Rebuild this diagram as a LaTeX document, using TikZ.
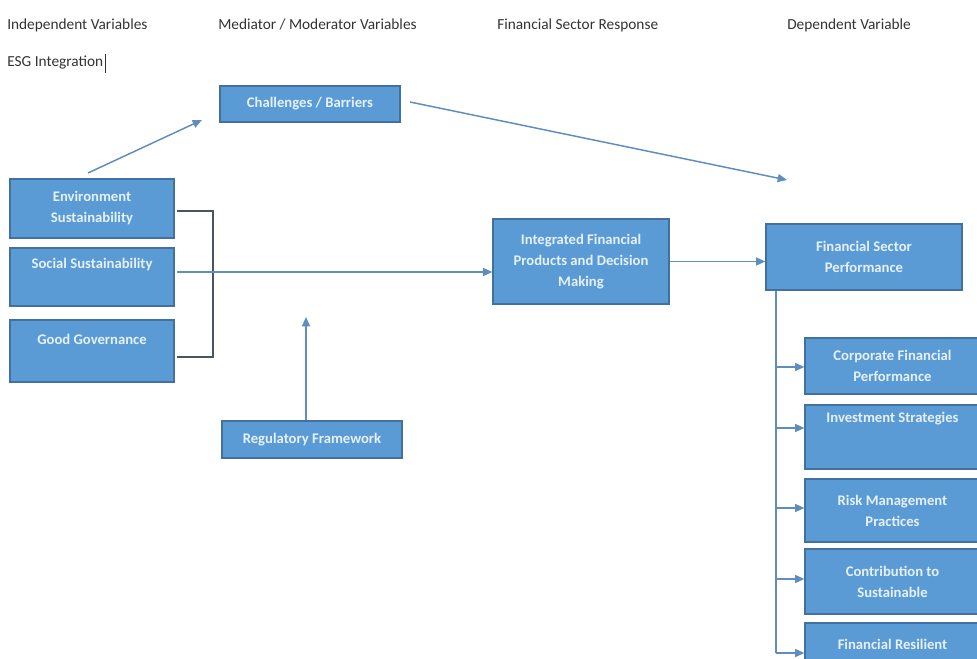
\documentclass[tikz,border=0pt]{standalone}
\usepackage{fontspec}
\setmainfont{Carlito}
\usetikzlibrary{arrows.meta}
\definecolor{boxfill}{HTML}{5B9BD5}
\definecolor{boxline}{HTML}{41719C}
\definecolor{boxtext}{HTML}{E6F0FA}
\definecolor{arrowc}{HTML}{5E8DBE}
\definecolor{bracketc}{HTML}{4A5560}
\definecolor{headc}{HTML}{333333}
\begin{document}
\begin{tikzpicture}[x=0.75pt,y=-0.75pt,
  box/.style={draw=boxline, line width=0.9pt, fill=boxfill, text=boxtext,
    font=\fontsize{11}{15.75}\selectfont\bfseries, align=center, inner sep=0pt, anchor=center},
  toptext/.style={text depth=#1},
  head/.style={anchor=west, text=headc, font=\fontsize{11.5}{14}\selectfont, inner sep=0pt},
  arr/.style={draw=arrowc, line width=1.1pt, -{Triangle[length=7pt,width=6pt]}},
  trunkline/.style={draw=arrowc, line width=1.1pt},
  brk/.style={draw=bracketc, line width=0.9pt},
]
\clip (0,0) rectangle (977,659);
\fill[white] (0,0) rectangle (977,659);

% headers
\node[head] (h1) at (7,25) {Independent Variables};
\node[head] (h2) at (218,25) {Mediator / Moderator Variables};
\node[head] (h3) at (497,25) {Financial Sector Response};
\node[head] (h4) at (787,25) {Dependent Variable};
\node[head] (esg) at (7,63) {ESG Integration};
\draw[headc, line width=0.7pt] ([xshift=1.5pt,yshift=1.5pt]esg.north east) -- ([xshift=1.5pt,yshift=-2pt]esg.south east);

% boxes
\node[box, minimum width=135pt, minimum height=27pt] (chal) at (310,104) {Challenges / Barriers};
\node[box, minimum width=123pt, minimum height=44.25pt] (env) at (92,208.5) {Environment\\Sustainability};
\node[box, minimum width=123pt, minimum height=43.5pt, toptext=20.5pt] (soc) at (92,277) {Social Sustainability};
\node[box, minimum width=123pt, minimum height=46.5pt, toptext=17.5pt] (gov) at (92,351) {Good Governance};
\node[box, minimum width=135pt, minimum height=27.75pt] (reg) at (312,439.5) {Regulatory Framework};
\node[box, minimum width=132pt, minimum height=63.75pt] (int) at (581,261.5) {Integrated Financial\\Products and Decision\\Making};
\node[box, minimum width=147pt, minimum height=49.5pt] (fsp) at (864,257) {Financial Sector\\Performance};
\node[box, minimum width=131.25pt, minimum height=42pt] (corp) at (892.5,366) {Corporate Financial\\Performance};
\node[box, minimum width=131.25pt, minimum height=48pt, toptext=29.5pt] (inv) at (892.5,437) {Investment Strategies};
\node[box, minimum width=131.25pt, minimum height=47.25pt] (risk) at (892.5,510.5) {Risk Management\\Practices};
\node[box, minimum width=131.25pt, minimum height=48.75pt] (contr) at (892.5,581.5) {Contribution to\\Sustainable};
\node[box, minimum width=131.25pt, minimum height=31.5pt] (res) at (892.5,644) {Financial Resilient};

% connectors
\coordinate (a1s) at (88,173);
\coordinate (a1e) at (202,120);
\draw[arr] (a1s) -- (a1e);
\coordinate (a2s) at (410,102);
\coordinate (a2e) at (787,180);
\draw[arr] (a2s) -- (a2e);

\coordinate (bt) at (177,211);
\coordinate (bx) at (213,284);
\coordinate (bb) at (177,357);
\draw[brk] (bt) -| (bx) |- (bb);

\coordinate (ss) at (177,272);
\draw[arr] (ss) -- (int.west |- ss);

\coordinate (rt) at (306,317);
\draw[arr] (reg.north -| rt) -- (rt);

\draw[arr] (int.east) -- (fsp.west |- int.east);

\coordinate (trunk) at (776,653);
\draw[trunkline] (fsp.south -| trunk) -- (trunk);
\foreach \n/\y in {corp/367,inv/428,risk/508,contr/579,res/653}
  \draw[arr] (776,\y) -- (\n.west |- 0,\y);
\end{tikzpicture}
\end{document}
